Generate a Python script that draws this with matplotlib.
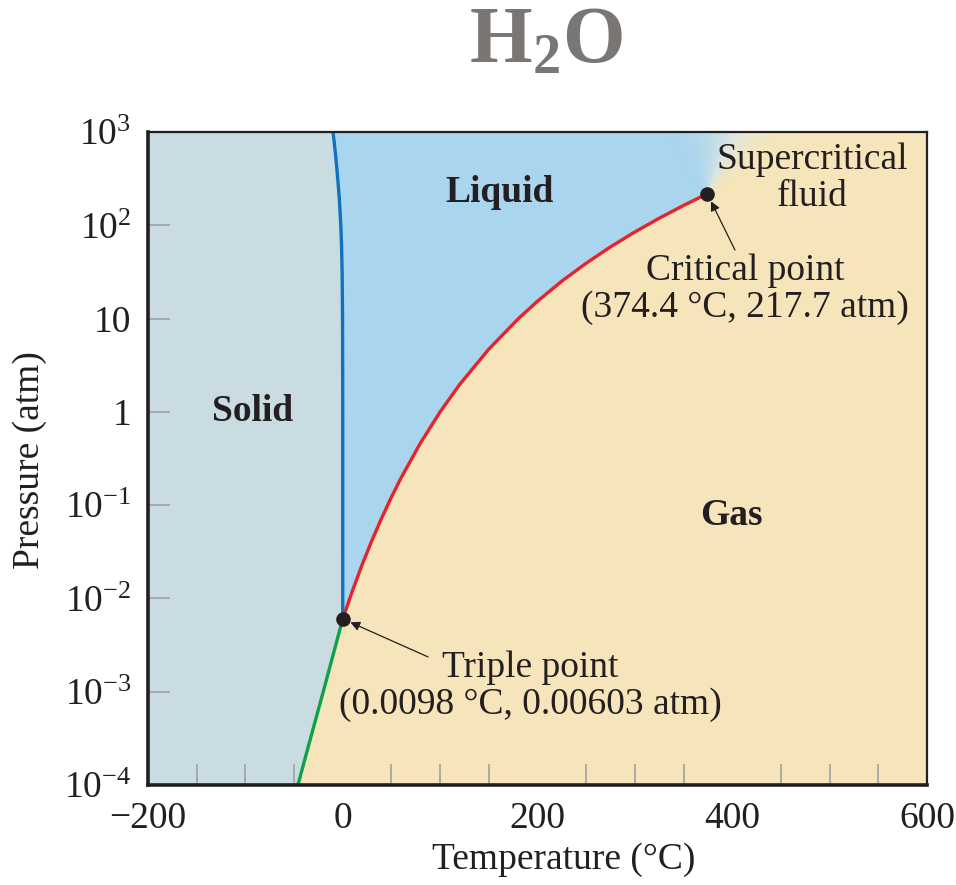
import numpy as np
import matplotlib
matplotlib.use("Agg")
import matplotlib.pyplot as plt
from matplotlib.colors import LinearSegmentedColormap

plt.rcParams['font.family'] = ['Liberation Serif', 'DejaVu Serif']
plt.rcParams['mathtext.fontset'] = 'custom'
plt.rcParams['mathtext.rm'] = 'Liberation Serif'
plt.rcParams['mathtext.bf'] = 'Liberation Serif:bold'
plt.rcParams['mathtext.it'] = 'Liberation Serif:italic'

# vaporization curve (liquid / gas), triple point -> critical point
vap_T = [0.0098, 10, 20, 30, 40, 50, 60, 80, 100, 120, 150, 180, 200, 225,
         250, 275, 300, 325, 350, 374.4]
vap_P = [0.00603, 0.0121, 0.0231, 0.0419, 0.0728, 0.122, 0.197, 0.467, 1.0,
         1.96, 4.70, 9.89, 15.35, 25.2, 39.2, 58.7, 84.8, 119.0, 163.2, 217.7]

# melting curve (solid / liquid)
melt_T = [0.0098, 0.0, -0.2, -0.6, -1.2, -2.0, -3.6, -6.0, -7.6, -8.9, -10.0]
melt_P = [0.00603, 1, 10, 30, 60, 100, 200, 400, 600, 800, 1000]

# sublimation curve (solid / gas)
sub_T = [-46, -35, -20, -10, 0.0098]
sub_P = [1e-4, 2.67e-4, 1.0e-3, 2.46e-3, 0.00603]

triple = (0.0098, 0.00603)
critical = (374.4, 217.7)

x_ticks = [-200, 0, 200, 400, 600]
x_labels = ['\u2212200', '0', '200', '400', '600']
y_ticks = [1e-4, 1e-3, 1e-2, 1e-1, 1, 10, 1e2, 1e3]
y_labels = ['$10^{-4}$', '$10^{-3}$', '$10^{-2}$', '$10^{-1}$', '1', '10',
            '$10^{2}$', '$10^{3}$']

solid_c = '#c9dce1'
liquid_c = '#a9d5ef'
gas_c = '#f6e5ba'
ink = '#231f20'

fig = plt.figure(figsize=(9.56, 8.85), dpi=100)
ax = fig.add_axes([0.1548, 0.1130, 0.81485, 0.73785])
ax.set_yscale('log')
ax.set_xlim(-200, 600)
ax.set_ylim(1e-4, 1e3)
ax.set_facecolor(gas_c)

# solid region
bound_T = sub_T + melt_T[1:]
bound_P = sub_P + melt_P[1:]
ax.fill_betweenx(bound_P, -200, bound_T, color=solid_c, lw=0, zorder=1)

# liquid region
liq_T = melt_T + [critical[0], critical[0]] + vap_T[::-1]
liq_P = melt_P + [1000, critical[1]] + vap_P[::-1]
ax.fill(liq_T, liq_P, color=liquid_c, lw=0, zorder=1)

# supercritical blend above the critical point
gT = np.linspace(330, 480, 200)
gL = np.linspace(np.log10(critical[1]), 3, 80)
TT, LL = np.meshgrid(gT, gL)
f = (LL - gL[0]) / (gL[-1] - gL[0])
centre = critical[0] + 28 * f
width = 0.8 + 16 * f
S = 1 / (1 + np.exp(-(TT - centre) / width))
blend = LinearSegmentedColormap.from_list('sc', [liquid_c, '#dfe7e2', gas_c])
ax.pcolormesh(TT, 10 ** LL, S, cmap=blend, vmin=0, vmax=1,
              shading='gouraud', zorder=1.5)

ax.plot(vap_T, vap_P, color='#e8212b', lw=2.4, zorder=3)
ax.plot(melt_T, melt_P, color='#1270bd', lw=2.4, zorder=3)
ax.plot(sub_T, sub_P, color='#0fa04a', lw=2.4, zorder=3)

ax.plot(*triple, 'o', color=ink, ms=9.5, zorder=4)
ax.plot(*critical, 'o', color=ink, ms=9.5, zorder=4)

arrow = dict(arrowstyle='-|>', color=ink, lw=0.9, shrinkA=0, shrinkB=6,
             mutation_scale=14)
ax.annotate('', xy=triple, xytext=(87.6, 2.36e-3), arrowprops=arrow, zorder=5)
ax.annotate('', xy=critical, xytext=(402.8, 54.3), arrowprops=arrow, zorder=5)

fs = 27
ax.text(161.5, 222, 'Liquid', fontsize=fs, weight='bold', color=ink,
        ha='center', va='center', zorder=5)
ax.text(-93.1, 1.0, 'Solid', fontsize=fs, weight='bold', color=ink,
        ha='center', va='center', zorder=5)
ax.text(398.8, 0.0766, 'Gas', fontsize=fs, weight='bold', color=ink,
        ha='center', va='center', zorder=5)
ax.text(481.9, 321, 'Supercritical\nfluid', fontsize=fs, color=ink,
        ha='center', va='center', linespacing=1.1, zorder=5)
ax.text(413, 20.8, 'Critical point\n(374.4 \u00b0C, 217.7 atm)', fontsize=fs,
        color=ink, ha='center', va='center', linespacing=1.1, zorder=5)
ax.text(192.3, 1.15e-3, 'Triple point\n(0.0098 \u00b0C, 0.00603 atm)',
        fontsize=fs, color=ink, ha='center', va='center', linespacing=1.1,
        zorder=5)

# axes styling
ax.set_xticks(x_ticks)
ax.set_xticklabels(x_labels)
ax.set_xticks(np.arange(-150, 600, 50), minor=True)
ax.set_yticks(y_ticks)
ax.set_yticklabels(y_labels)
ax.yaxis.set_minor_locator(matplotlib.ticker.NullLocator())
ax.tick_params(axis='x', which='major', length=0, pad=12, labelsize=fs,
               labelcolor=ink)
ax.tick_params(axis='x', which='minor', direction='in', length=15, width=1.2,
               color='#a0a0a0')
ax.tick_params(axis='y', which='major', direction='in', length=16, width=1.2,
               color='#a0a0a0', pad=12, labelsize=fs, labelcolor=ink)

for side in ['left', 'bottom']:
    ax.spines[side].set_linewidth(2.6)
for side in ['top', 'right']:
    ax.spines[side].set_linewidth(1.6)
for s in ax.spines.values():
    s.set_color(ink)
    s.set_zorder(6)

ax.set_xlabel('Temperature (\u00b0C)', fontsize=fs, color=ink, va='center')
ax.xaxis.set_label_coords(0.533, -0.115)
ax.set_ylabel('Pressure (atm)', fontsize=fs, color=ink, va='center')
ax.yaxis.set_label_coords(-0.1515, 0.498)

fig.text(0.571, 1 - 63 / 885, r'$\mathbf{H}_{\mathbf{2}}\mathbf{O}$',
         fontsize=58, color='#7a7674', ha='center', va='baseline')

fig.savefig('out.png', dpi=100)
